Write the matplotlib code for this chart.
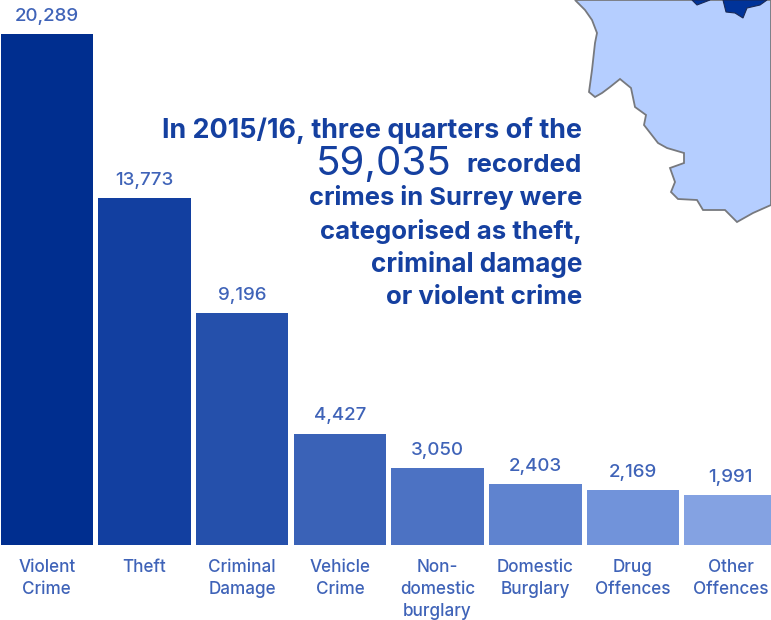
import matplotlib
matplotlib.use("Agg")
import matplotlib.pyplot as plt
from matplotlib.patches import Polygon

plt.rcParams['font.family'] = ['Inter', 'DejaVu Sans']

W, H = 771, 620

categories = ["Violent\nCrime", "Theft", "Criminal\nDamage", "Vehicle\nCrime",
              "Non-\ndomestic\nburglary", "Domestic\nBurglary", "Drug\nOffences", "Other\nOffences"]
crimes = [20289, 13773, 9196, 4427, 3050, 2403, 2169, 1991]
bar_colours = ["#002E8F", "#123FA0", "#2550AB", "#3A62B7",
               "#4C72C3", "#5F83CF", "#7193DA", "#84A2E2"]

headline = ["In 2015/16, three quarters of the", "recorded", "crimes in Surrey were",
            "categorised as theft,", "criminal damage", "or violent crime"]
headline_y = [131, 165, 198, 232, 265, 298]
headline_size = [19.4, 18.6, 18.4, 18.6, 18.8, 18.6]
total = "59,035"

text_blue = "#1540A0"
label_blue = "#3F63B8"

# map outline, in pixels of the picture
county_x = [575, 585, 592, 597, 595, 592, 589, 595, 602, 610, 620, 631, 635, 646,
            644, 658, 667, 684, 684, 670, 675, 671, 678, 697, 703, 725, 737, 753, 771, 771]
county_y = [0, 10, 20, 33, 43, 70, 92, 97, 93, 87, 79, 88, 107, 115,
            125, 143, 148, 153, 163, 168, 182, 192, 199, 200, 210, 210, 222, 213, 205, 0]
patch_a_x = [692, 697, 710]
patch_a_y = [0, 5, 0]
patch_b_x = [723, 726, 735, 743, 747, 760, 767]
patch_b_y = [0, 12, 13, 18, 8, 5, 0]

fig = plt.figure(figsize=(W / 100, H / 100), dpi=100)

# map sits behind the chart
bg = fig.add_axes([0, 0, 1, 1], zorder=0)
bg.set_xlim(0, W)
bg.set_ylim(H, 0)
bg.axis("off")
bg.add_patch(Polygon(list(zip(county_x, county_y)), closed=True, facecolor="#B5CEFF",
                     edgecolor="#77797E", linewidth=1.3))
bg.add_patch(Polygon(list(zip(patch_a_x, patch_a_y)), closed=True, facecolor="#003399",
                     edgecolor="#1A2A55", linewidth=0.8))
bg.add_patch(Polygon(list(zip(patch_b_x, patch_b_y)), closed=True, facecolor="#003399",
                     edgecolor="#1A2A55", linewidth=0.8))

# bars: zero line at y=545px, 511px for the tallest bar
pitch = 97.7
left_centre = 46.8
ax = fig.add_axes([0, (H - 545) / H, 1, 545 / H], zorder=1)
ax.patch.set_alpha(0)
ax.set_xlim(-left_centre / pitch, (W - left_centre) / pitch)
ax.set_ylim(0, 545 * max(crimes) / 511)
xs = range(len(crimes))
ax.bar(xs, crimes, width=0.947, color=bar_colours)
for x, v in zip(xs, crimes):
    ax.annotate(f"{v:,}", (x, v), xytext=(0, 6.5), textcoords="offset points", ha="center",
                va="bottom", fontsize=13.5, color=label_blue, fontweight="medium")

ax.set_xticks(list(xs))
ax.set_xticklabels(categories, fontsize=12.3, color=label_blue, fontweight="medium",
                   linespacing=1.4)
ax.tick_params(axis="x", length=0, pad=10)
ax.set_yticks([])
for s in ax.spines.values():
    s.set_visible(False)

# headline text, right aligned
for line, y, size in zip(headline, headline_y, headline_size):
    bg.text(582, y, line, ha="right", va="center", fontsize=size, color=text_blue,
            fontweight="bold", zorder=5)
fig.text(316 / W, 1 - 165 / H, total, ha="left", va="center", fontsize=29,
         color=text_blue, zorder=5)

fig.savefig("out.png", dpi=100)
